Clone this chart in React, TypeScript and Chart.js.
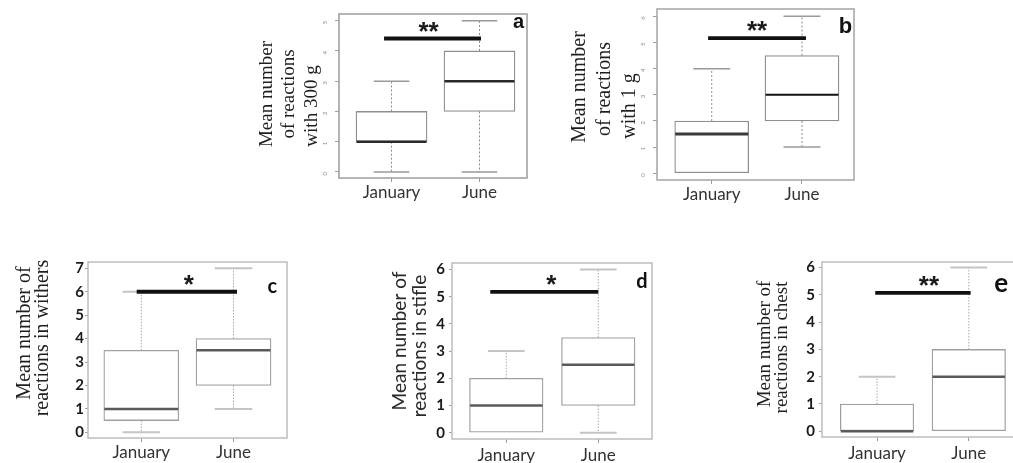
import React, { useEffect, useRef } from 'react';
import { Chart, registerables } from 'chart.js';

Chart.register(...registerables);

// ---------- data ----------
const categories = ['January', 'June'];

// a: reactions with 300 g
const aMin = [0, 0];
const aQ1 = [1, 2];
const aMedian = [1, 3];
const aQ3 = [2, 4];
const aMax = [3, 5];

// b: reactions with 1 g
const bMin = [0, 1];
const bQ1 = [0, 2];
const bMedian = [1.5, 3];
const bQ3 = [2, 4.5];
const bMax = [4, 6];

// c: reactions in withers
const cMin = [0, 1];
const cQ1 = [0.5, 2];
const cMedian = [1, 3.5];
const cQ3 = [3.5, 4];
const cMax = [6, 7];

// d: reactions in stifle
const dMin = [0, 0];
const dQ1 = [0, 1];
const dMedian = [1, 2.5];
const dQ3 = [2, 3.5];
const dMax = [3, 6];

// e: reactions in chest
const eMin = [0, 0];
const eQ1 = [0, 0];
const eMedian = [0, 2];
const eQ3 = [1, 3];
const eMax = [2, 6];

const aTicks = [0, 1, 2, 3, 4, 5];
const bTicks = [0, 1, 2, 3, 4, 5, 6];
const cTicks = [0, 1, 2, 3, 4, 5, 6, 7];
const dTicks = [0, 1, 2, 3, 4, 5, 6];
const eTicks = [0, 1, 2, 3, 4, 5, 6];

const panelLetters = ['a', 'b', 'c', 'd', 'e'];
const sigLabels = ['**', '**', '*', '*', '**'];
const sigLevel = [4.41, 5.17, 6, 5.18, 5.07];
const sigFrom = [0.915, 0.96, 0.95, 0.826, 0.98];
const sigTo = [2.017, 2.044, 2.038, 2.0, 2.02];

const aTitle = ['Mean number', 'of reactions', 'with 300 g'];
const bTitle = ['Mean number', 'of reactions', 'with 1 g'];
const cTitle = ['Mean number of', 'reactions in withers'];
const dTitle = ['Mean number of', 'reactions in stifle'];
const eTitle = ['Mean number of', 'reactions in chest'];

// ---------- layout / style ----------
const Y_AXIS_W = 100;
const PAD_TOP = 20;
const PAD_RIGHT = 6;
const X_AXIS_H = 32;

type Panel = {
  idx: number;
  frame: [number, number, number, number];
  xRange: [number, number];
  yRange: [number, number];
  min: number[]; q1: number[]; med: number[]; q3: number[]; max: number[];
  ticks: number[];
  title: string[];
  titleFont: string;
  titleColor: string;
  titleX: number[];
  titleY: number[];
  letterFont: string;
  letterDX: number;
  letterDY: number;
  starDX: number;
  boxW: number;
  boxColor: string;
  medianColor: string[];
  medianWidth: number[];
  capColor: string;
  capWidth: number;
  whiskerColor: string;
  whiskerDash: number[];
  frameColor: string;
  frameWidth: number;
  yTickFont: { family: string; size: number; weight: any };
  yTickColor: string;
  yTickPad: number;
  yTickLen: number;
  yRot: number;
  xPad: number;
};

const serif = '"Liberation Serif", "Times New Roman", serif';
const sans = 'Lato, "Open Sans", sans-serif';

const panels: Panel[] = [
  {
    idx: 0, frame: [339, 14, 188, 164], xRange: [0.403, 2.54], yRange: [-0.2, 5.22],
    min: aMin, q1: aQ1, med: aMedian, q3: aQ3, max: aMax, ticks: aTicks,
    title: aTitle, titleFont: `19px ${serif}`, titleColor: '#1e1e1e', titleX: [-72, -50, -27], titleY: [80, 80, 92],
    letterFont: 'bold 20px "Liberation Sans", Arial, sans-serif', letterDX: -8.5, letterDY: 14, starDX: -4,
    boxW: 71, boxColor: '#8f8f8f', medianColor: ['#2a2a2a', '#2a2a2a'], medianWidth: [2.5, 2.5],
    capColor: '#9a9a9a', capWidth: 1.5, whiskerColor: '#8a8a8a', whiskerDash: [2, 2],
    frameColor: '#9c9c9c', frameWidth: 1.5,
    yTickFont: { family: sans, size: 6, weight: 'normal' }, yTickColor: '#8a8a8a', yTickPad: 10, yTickLen: 4, yRot: 90, xPad: 0,
  },
  {
    idx: 1, frame: [657, 9, 197, 171], xRange: [0.394, 2.576], yRange: [-0.257, 6.28],
    min: bMin, q1: bQ1, med: bMedian, q3: bQ3, max: bMax, ticks: bTicks,
    title: bTitle, titleFont: `20px ${serif}`, titleColor: '#1e1e1e', titleX: [-77, -52, -27], titleY: [78, 80, 97],
    letterFont: 'bold 22px "Liberation Sans", Arial, sans-serif', letterDX: -8.5, letterDY: 24, starDX: 0,
    boxW: 74, boxColor: '#8f8f8f', medianColor: ['#3a3a3a', '#111111'], medianWidth: [3, 2],
    capColor: '#9a9a9a', capWidth: 1.5, whiskerColor: '#8a8a8a', whiskerDash: [2, 2],
    frameColor: '#a4a4a4', frameWidth: 1.5,
    yTickFont: { family: sans, size: 6, weight: 'normal' }, yTickColor: '#8a8a8a', yTickPad: 10, yTickLen: 4, yRot: 90, xPad: 0,
  },
  {
    idx: 2, frame: [88, 262, 199, 176], xRange: [0.422, 2.58], yRange: [-0.243, 7.27],
    min: cMin, q1: cQ1, med: cMedian, q3: cQ3, max: cMax, ticks: cTicks,
    title: cTitle, titleFont: `20px ${serif}`, titleColor: '#1e1e1e', titleX: [-63, -45], titleY: [71, 76],
    letterFont: `bold 20px ${sans}`, letterDX: -14.8, letterDY: 30.7, starDX: 2,
    boxW: 75, boxColor: '#a0a0a0', medianColor: ['#5a5a5a', '#5a5a5a'], medianWidth: [2.5, 2.5],
    capColor: '#c4c4c4', capWidth: 2, whiskerColor: '#a8a8a8', whiskerDash: [1.5, 1.5],
    frameColor: '#bdbdbd', frameWidth: 1.5,
    yTickFont: { family: sans, size: 15, weight: 'bold' }, yTickColor: '#1a1a1a', yTickPad: 1, yTickLen: 3, yRot: 0, xPad: 0,
  },
  {
    idx: 3, frame: [452, 263, 200, 176], xRange: [0.41, 2.584], yRange: [-0.231, 6.24],
    min: dMin, q1: dQ1, med: dMedian, q3: dQ3, max: dMax, ticks: dTicks,
    title: dTitle, titleFont: `19px ${sans}`, titleColor: '#2a2a2a', titleX: [-52.5, -32], titleY: [78, 83],
    letterFont: `bold 20px ${sans}`, letterDX: -10, letterDY: 24.6, starDX: 7,
    boxW: 73.5, boxColor: '#a0a0a0', medianColor: ['#5a5a5a', '#5a5a5a'], medianWidth: [2.5, 2.5],
    capColor: '#c4c4c4', capWidth: 2, whiskerColor: '#a8a8a8', whiskerDash: [1.5, 1.5],
    frameColor: '#bdbdbd', frameWidth: 1.5,
    yTickFont: { family: sans, size: 15, weight: 'bold' }, yTickColor: '#1a1a1a', yTickPad: 4, yTickLen: 3, yRot: 0, xPad: 2,
  },
  {
    idx: 4, frame: [822, 262, 200, 175], xRange: [0.4, 2.58], yRange: [-0.21, 6.205],
    min: eMin, q1: eQ1, med: eMedian, q3: eQ3, max: eMax, ticks: eTicks,
    title: eTitle, titleFont: `19px ${serif}`, titleColor: '#1e1e1e', titleX: [-56.5, -39.5], titleY: [82, 85.5],
    letterFont: `bold 26px ${sans}`, letterDX: -20.7, letterDY: 30, starDX: 6,
    boxW: 73.5, boxColor: '#a0a0a0', medianColor: ['#5a5a5a', '#5a5a5a'], medianWidth: [2.5, 2.5],
    capColor: '#c4c4c4', capWidth: 2, whiskerColor: '#a8a8a8', whiskerDash: [1.5, 1.5],
    frameColor: '#bdbdbd', frameWidth: 1.5,
    yTickFont: { family: sans, size: 15, weight: 'bold' }, yTickColor: '#1a1a1a', yTickPad: 4, yTickLen: 3, yRot: 0, xPad: 2,
  },
];

function BoxPanel({ p }: { p: Panel }) {
  const ref = useRef<HTMLCanvasElement>(null);
  const [L, T, W, H] = p.frame;
  const cw = Y_AXIS_W + W + PAD_RIGHT;
  const ch = PAD_TOP + H + X_AXIS_H;

  useEffect(() => {
    const canvas = ref.current;
    if (!canvas) return;

    const extras = {
      id: 'boxExtras' + p.idx,
      afterDatasetsDraw(chart: any) {
        const { ctx, chartArea } = chart;
        const xs = chart.scales.x;
        const ys = chart.scales.y;
        const meta = chart.getDatasetMeta(0);
        const seg = (x1: number, y1: number, x2: number, y2: number) => {
          ctx.beginPath();
          ctx.moveTo(x1, y1);
          ctx.lineTo(x2, y2);
          ctx.stroke();
        };
        ctx.save();
        categories.forEach((_, i) => {
          const el = meta.data[i];
          const cx = el.x;
          const half = el.width / 2;
          const pq1 = ys.getPixelForValue(p.q1[i]);
          const pq3 = ys.getPixelForValue(p.q3[i]);
          const pmin = ys.getPixelForValue(p.min[i]);
          const pmax = ys.getPixelForValue(p.max[i]);
          const pmed = ys.getPixelForValue(p.med[i]);
          // whiskers
          ctx.strokeStyle = p.whiskerColor;
          ctx.lineWidth = 1;
          ctx.setLineDash(p.whiskerDash);
          if (p.max[i] > p.q3[i]) seg(cx, pq3, cx, pmax);
          if (p.min[i] < p.q1[i]) seg(cx, pq1, cx, pmin);
          ctx.setLineDash([]);
          // caps
          ctx.strokeStyle = p.capColor;
          ctx.lineWidth = p.capWidth;
          seg(cx - half / 2, pmax, cx + half / 2, pmax);
          if (p.min[i] < p.q1[i]) seg(cx - half / 2, pmin, cx + half / 2, pmin);
          // median
          ctx.strokeStyle = p.medianColor[i];
          ctx.lineWidth = p.medianWidth[i];
          seg(cx - half + 0.5, pmed, cx + half - 0.5, pmed);
        });
        // frame
        ctx.strokeStyle = p.frameColor;
        ctx.lineWidth = p.frameWidth;
        ctx.strokeRect(chartArea.left, chartArea.top, chartArea.right - chartArea.left, chartArea.bottom - chartArea.top);
        // significance bar
        const sy = ys.getPixelForValue(sigLevel[p.idx]);
        const sx1 = xs.getPixelForValue(sigFrom[p.idx]);
        const sx2 = xs.getPixelForValue(sigTo[p.idx]);
        ctx.strokeStyle = '#111';
        ctx.lineWidth = 3.8;
        seg(sx1, sy, sx2, sy);
        ctx.fillStyle = '#1a1a1a';
        ctx.font = 'bold 26px "Liberation Sans", Arial, sans-serif';
        ctx.textAlign = 'center';
        ctx.textBaseline = 'alphabetic';
        ctx.fillText(sigLabels[p.idx], (sx1 + sx2) / 2 + p.starDX, sy + 1);
        // panel letter
        ctx.font = p.letterFont;
        ctx.fillStyle = '#111';
        ctx.fillText(panelLetters[p.idx], chartArea.right + p.letterDX, chartArea.top + p.letterDY);
        // y-axis title
        ctx.font = p.titleFont;
        ctx.fillStyle = p.titleColor;
        ctx.textBaseline = 'middle';
        p.title.forEach((line, k) => {
          ctx.save();
          ctx.translate(chartArea.left + p.titleX[k], chartArea.top + p.titleY[k]);
          ctx.rotate(-Math.PI / 2);
          ctx.fillText(line, 0, 0);
          ctx.restore();
        });
        ctx.restore();
      },
    };

    const chart = new Chart(canvas, {
      type: 'bar',
      data: {
        datasets: [
          {
            data: categories.map((_, i) => ({ x: i + 1, y: [p.q1[i], p.q3[i]] })) as any,
            backgroundColor: '#ffffff',
            borderColor: p.boxColor,
            borderWidth: 1.3,
            borderSkipped: false,
            barThickness: p.boxW,
          },
        ],
      },
      options: {
        responsive: false,
        animation: false,
        devicePixelRatio: 1,
        layout: { padding: { top: PAD_TOP, right: PAD_RIGHT, left: 0, bottom: 0 } },
        plugins: { legend: { display: false }, tooltip: { enabled: false } },
        scales: {
          x: {
            type: 'linear',
            offset: false,
            min: p.xRange[0],
            max: p.xRange[1],
            afterBuildTicks: (s: any) => {
              s.ticks = categories.map((_, i) => ({ value: i + 1 }));
            },
            afterFit: (s: any) => {
              s.height = X_AXIS_H;
            },
            ticks: {
              autoSkip: false,
              maxRotation: 0,
              minRotation: 0,
              padding: p.xPad,
              color: '#333',
              font: { family: sans, size: 17 },
              callback: (v: any) => categories[Math.round(Number(v)) - 1] ?? '',
            },
            grid: { offset: false, drawOnChartArea: false, drawTicks: true, tickLength: 4, color: '#9a9a9a' },
            border: { display: false },
          },
          y: {
            type: 'linear',
            min: p.yRange[0],
            max: p.yRange[1],
            afterBuildTicks: (s: any) => {
              s.ticks = p.ticks.map((v) => ({ value: v }));
            },
            afterFit: (s: any) => {
              s.width = Y_AXIS_W;
            },
            ticks: {
              autoSkip: false,
              minRotation: p.yRot,
              maxRotation: p.yRot,
              padding: p.yTickPad,
              color: p.yTickColor,
              font: p.yTickFont,
              callback: (v: any) => String(v),
            },
            grid: { drawOnChartArea: false, drawTicks: true, tickLength: p.yTickLen, color: '#a0a0a0' },
            border: { display: false },
          },
        },
      } as any,
      plugins: [extras],
    });
    return () => chart.destroy();
  }, []);

  return (
    <canvas
      ref={ref}
      width={cw}
      height={ch}
      style={{ position: 'absolute', left: L - Y_AXIS_W, top: T - PAD_TOP, width: cw, height: ch }}
    />
  );
}

export default function App() {
  return (
    <div
      style={{
        position: 'fixed',
        left: 0,
        top: 0,
        width: 1013,
        height: 463,
        overflow: 'hidden',
        background: '#ffffff',
      }}
    >
      {panels.map((p) => (
        <BoxPanel key={p.idx} p={p} />
      ))}
    </div>
  );
}
